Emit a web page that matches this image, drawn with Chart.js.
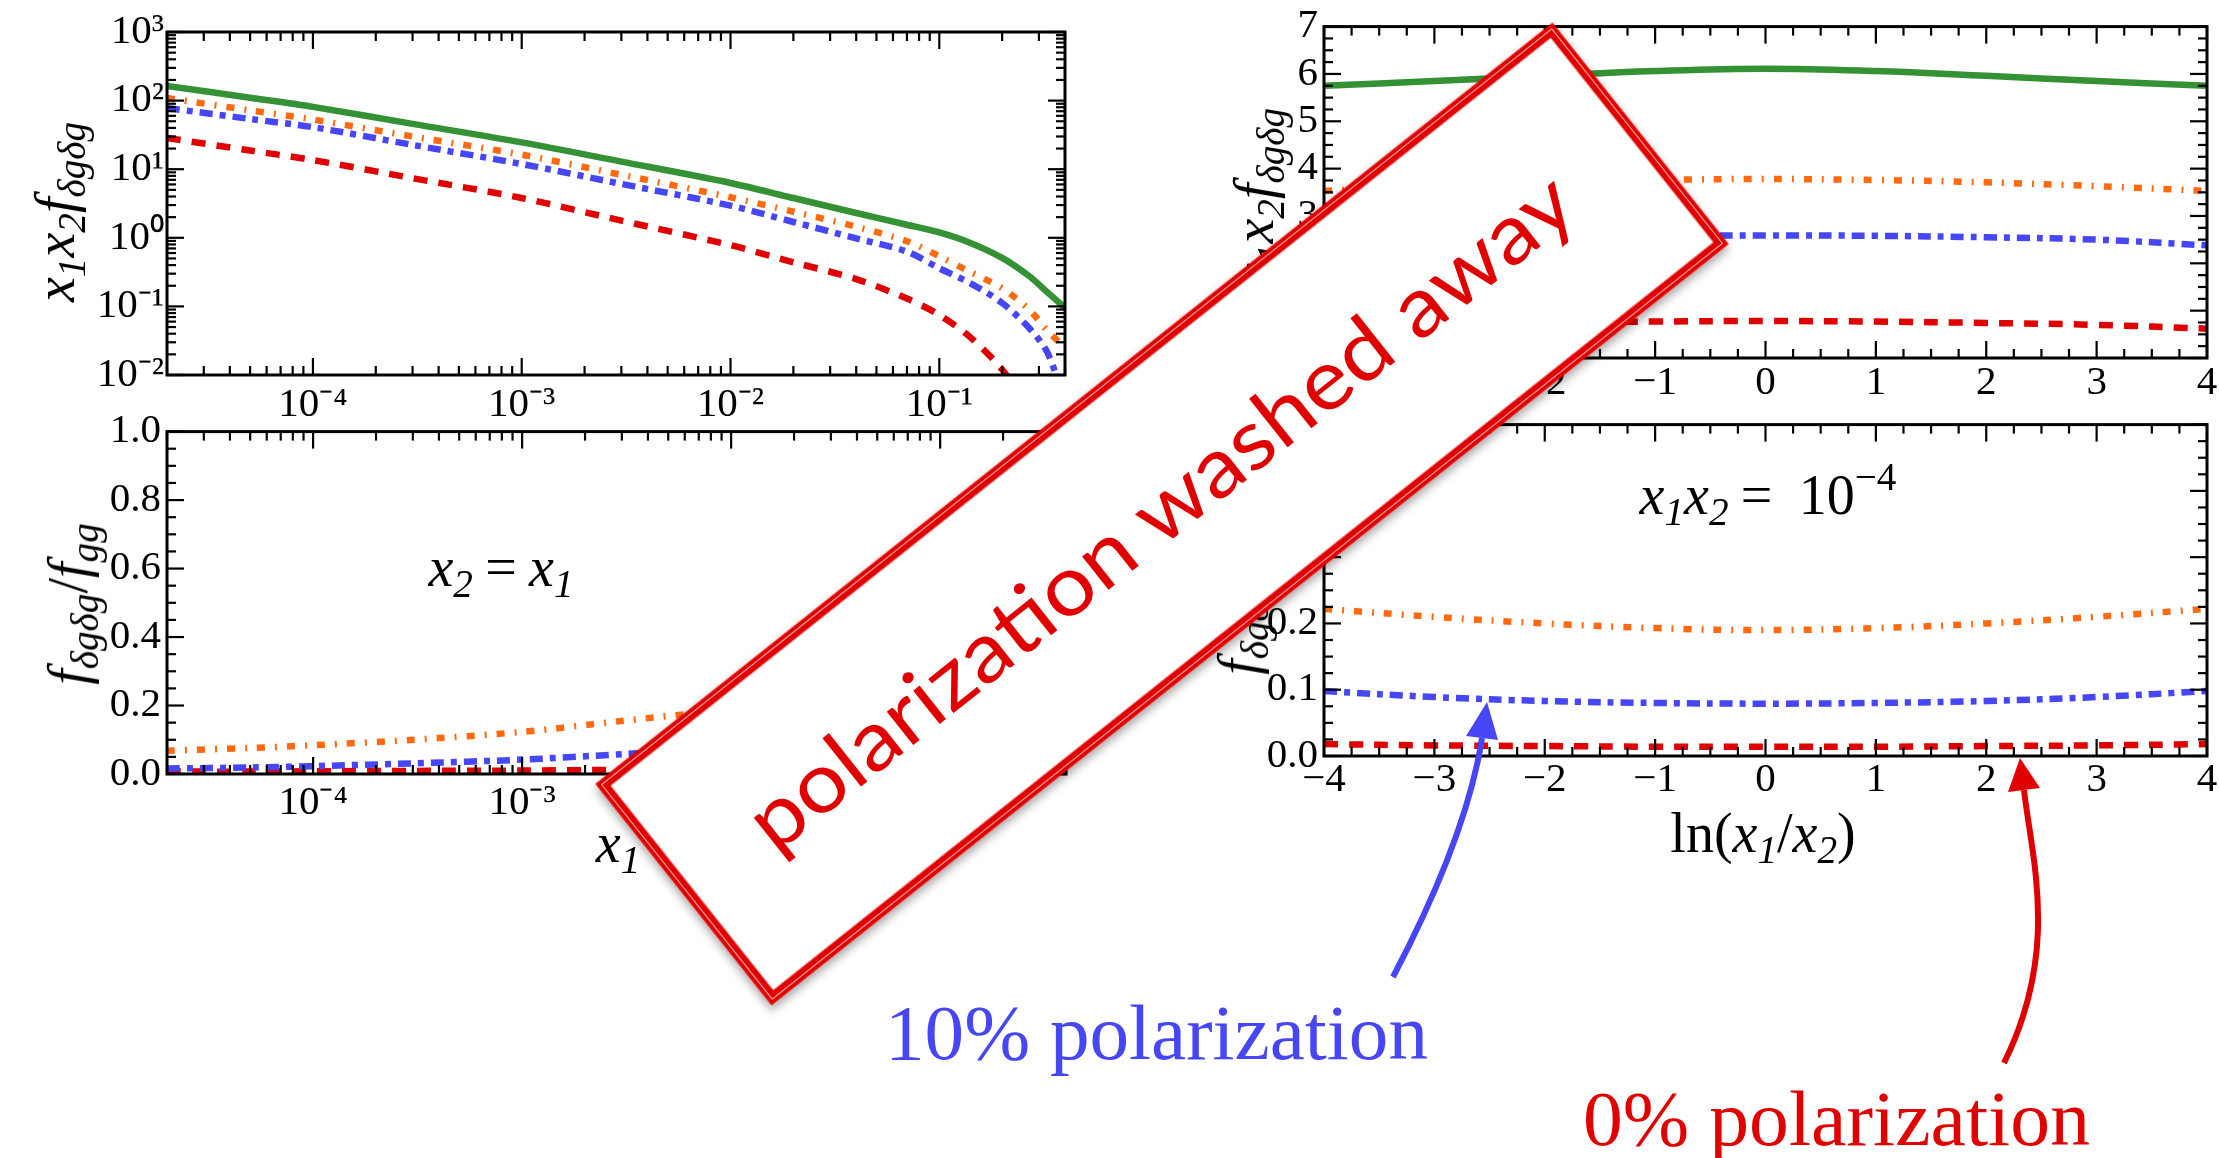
<!DOCTYPE html>
<html>
<head>
<meta charset="utf-8">
<script src="https://cdn.jsdelivr.net/npm/chart.js"></script>
<style>
html, body { margin: 0; padding: 0; background: #fff; width: 2219px; height: 1158px; overflow: hidden; position: relative; }
canvas { position: absolute; }
.lab { position: absolute; white-space: nowrap; line-height: 1; font-family: 'Liberation Serif', serif; font-style: italic; font-size: 56px; color: #000; transform: translate(-50%, -50%); }
.lab.rot { transform: translate(-50%, -50%) rotate(-90deg); }
.lab sub { font-size: 70%; vertical-align: -0.28em; line-height: 0; }
.lab sup { font-size: 70%; vertical-align: 0.62em; line-height: 0; }
.rm { font-style: normal; }
.eq { font-style: normal; margin: 0 0.22em; }
svg { position: absolute; left: 0; top: 0; }
</style>
</head>
<body>
<canvas id="c1"></canvas>
<canvas id="c2"></canvas>
<canvas id="c3"></canvas>
<canvas id="c4"></canvas>

<div class="lab rot" style="left:55px;top:212px">x<sub>1</sub>x<sub>2</sub>f<sub>δgδg</sub></div>
<div class="lab rot" style="left:68px;top:604px">f<sub>δgδg</sub><span class="rm">/</span>f<sub>gg</sub></div>
<div class="lab rot" style="left:1254px;top:198px">x<sub>1</sub>x<sub>2</sub>f<sub>δgδg</sub></div>
<div class="lab rot" style="left:1238px;top:594px">f<sub>δgδg</sub><span class="rm">/</span>f<sub>gg</sub></div>
<div class="lab" style="left:618px;top:843px">x<sub>1</sub></div>
<div class="lab" style="left:1763px;top:833px"><span class="rm">ln(</span>x<sub>1</sub><span class="rm">/</span>x<sub>2</sub><span class="rm">)</span></div>
<div class="lab" style="left:501px;top:567px">x<sub>2</sub><span class="eq">=</span>x<sub>1</sub></div>
<div class="lab" style="left:1768px;top:495px">x<sub>1</sub>x<sub>2</sub><span class="eq">=</span> <span class="rm">10<sup>−4</sup></span></div>

<svg width="2219" height="1158">
  <defs>
    <filter id="sh" x="-10%" y="-30%" width="120%" height="160%">
      <feDropShadow dx="-3" dy="4" stdDeviation="5" flood-color="#000" flood-opacity="0.35"/>
    </filter>
  </defs>
  <g transform="translate(1162,514) rotate(-38.5)">
    <rect x="-606" y="-136" width="1212" height="272" fill="#fff" stroke="#e00000" stroke-width="11" filter="url(#sh)"/>
    <rect x="-607" y="-137" width="1214" height="274" fill="none" stroke="#fff" stroke-width="1.2" stroke-opacity="0.6"/>
    <text x="0" y="26" text-anchor="middle" font-family="Lato" font-size="84" fill="#e00000" textLength="1030" lengthAdjust="spacingAndGlyphs">polarization washed away</text>
  </g>
  <path d="M1393,977 Q1467,836 1482,738" stroke="#4646f5" stroke-width="6" fill="none"/>
  <polygon points="1487,702 1498,740 1466,736" fill="#4646f5"/>
  <path d="M2004,1063 C2060,950 2032,860 2024,790" stroke="#e00000" stroke-width="6" fill="none"/>
  <polygon points="2020,758 2040,788 2008,792" fill="#e00000"/>
  <text x="885" y="1059" font-family="Liberation Serif" font-size="79" fill="#4646f5" textLength="543" lengthAdjust="spacingAndGlyphs">10% polarization</text>
  <text x="1583" y="1145" font-family="Liberation Serif" font-size="79" fill="#e00000" textLength="507" lengthAdjust="spacingAndGlyphs">0% polarization</text>
</svg>

<script>
// slice x2 = x1 (left panels)
var x1Values = [2e-5, 5e-5, 1e-4, 3e-4, 1e-3, 3e-3, 1e-2, 2e-2, 4e-2, 0.07, 0.1, 0.14, 0.2, 0.27, 0.33, 0.4];
var fGreen  = [164, 110, 81, 45.8, 24.6, 12.9, 6.3, 3.8, 2.3, 1.55, 1.2, 0.85, 0.51, 0.275, 0.16, 0.095];
var fOrange = [109, 72, 53, 30, 16.3, 8.3, 3.9, 2.4, 1.45, 0.89, 0.54, 0.32, 0.185, 0.089, 0.044, 0.025];
var fBlue   = [78, 54, 41, 22.6, 11.9, 6.1, 2.94, 1.7, 0.98, 0.63, 0.36, 0.22, 0.112, 0.048, 0.021, 0.004];
var fRed    = [28.5, 18.7, 13.6, 7.4, 3.8, 1.78, 0.78, 0.44, 0.25, 0.13, 0.075, 0.036, 0.012, 0.003, 0.001, 0.0005];
var rOrange = [0.068, 0.076, 0.084, 0.10, 0.123, 0.155, 0.19, 0.22, 0.26, 0.30, 0.33, 0.37, 0.42, 0.48, 0.53, 0.58];
var rBlue   = [0.016, 0.019, 0.023, 0.031, 0.042, 0.058, 0.079, 0.10, 0.13, 0.16, 0.19, 0.22, 0.27, 0.32, 0.36, 0.41];
var rRed    = [0.007, 0.007, 0.008, 0.009, 0.010, 0.012, 0.014, 0.017, 0.020, 0.025, 0.030, 0.035, 0.045, 0.055, 0.065, 0.075];

// slice x1 x2 = 1e-4 (right panels)
var lnRatio = [-4, -3, -2, -1, 0, 1, 2, 3, 4];
var gGreen  = [5.75, 5.85, 5.96, 6.06, 6.11, 6.06, 5.96, 5.85, 5.75];
var gOrange = [3.53, 3.63, 3.71, 3.76, 3.78, 3.76, 3.71, 3.63, 3.53];
var gBlue   = [2.38, 2.50, 2.55, 2.58, 2.59, 2.58, 2.55, 2.50, 2.38];
var gRed    = [0.62, 0.70, 0.74, 0.77, 0.78, 0.77, 0.74, 0.70, 0.62];
var sOrange = [0.222, 0.210, 0.200, 0.193, 0.190, 0.193, 0.200, 0.210, 0.222];
var sBlue   = [0.098, 0.089, 0.083, 0.080, 0.079, 0.080, 0.083, 0.089, 0.098];
var sRed    = [0.018, 0.016, 0.015, 0.014, 0.014, 0.014, 0.015, 0.016, 0.018];

// tick labels
var logXTicks = [1e-4, 1e-3, 1e-2, 1e-1];
var logYTicks = [1e-2, 1e-1, 1, 10, 100, 1000];

Chart.defaults.font.family = "'Liberation Serif', serif";
Chart.defaults.color = '#000';
var TICK_SIZE = 41;

var SUP = {'-': '\u207B', '0': '\u2070', '1': '\u00B9', '2': '\u00B2', '3': '\u00B3', '4': '\u2074',
           '5': '\u2075', '6': '\u2076', '7': '\u2077', '8': '\u2078', '9': '\u2079'};
function powLabel(v) {
    var e = Math.round(Math.log10(v));
    return '10' + String(e).split('').map(function (c) { return SUP[c]; }).join('');
}
function signed(v) { return v < 0 ? '\u2212' + Math.abs(v) : String(v); }

function logTicks(lo, hi) {
    var major = [], minor = [];
    for (var e = Math.floor(Math.log10(lo)); e <= Math.ceil(Math.log10(hi)); e++) {
        for (var k = 1; k < 10; k++) {
            var v = k * Math.pow(10, e);
            if (v < lo * 0.999 || v > hi * 1.001) continue;
            (k === 1 ? major : minor).push(v);
        }
    }
    return {major: major, minor: minor};
}
function linTicks(lo, hi, step, minorStep) {
    var major = [], minor = [];
    var n = Math.round((hi - lo) / minorStep);
    for (var i = 0; i <= n; i++) {
        var v = lo + i * minorStep;
        var r = (v - lo) / step;
        (Math.abs(r - Math.round(r)) < 1e-6 ? major : minor).push(v);
    }
    return {major: major, minor: minor};
}

// inward ticks on all four sides + box
var framePlugin = {
    id: 'frame',
    afterDraw: function (chart, args, opts) {
        var ctx = chart.ctx, a = chart.chartArea, xs = chart.scales.x, ys = chart.scales.y;
        ctx.save();
        ctx.strokeStyle = '#000';
        ctx.lineWidth = 2.2;
        function seg(x1, y1, x2, y2) { ctx.beginPath(); ctx.moveTo(x1, y1); ctx.lineTo(x2, y2); ctx.stroke(); }
        function xt(list, len) {
            list.forEach(function (v) {
                var p = xs.getPixelForValue(v);
                if (p < a.left - 0.5 || p > a.right + 0.5) return;
                seg(p, a.bottom, p, a.bottom - len);
                seg(p, a.top, p, a.top + len);
            });
        }
        function yt(list, len) {
            list.forEach(function (v) {
                var p = ys.getPixelForValue(v);
                if (p < a.top - 0.5 || p > a.bottom + 0.5) return;
                seg(a.left, p, a.left + len, p);
                seg(a.right, p, a.right - len, p);
            });
        }
        xt(opts.x.major, 17); xt(opts.x.minor, 9);
        yt(opts.y.major, 17); yt(opts.y.minor, 9);
        ctx.lineWidth = 3;
        ctx.strokeRect(a.left, a.top, a.right - a.left, a.bottom - a.top);
        ctx.restore();
    }
};

var STY = {
    green:  {borderColor: '#349134', borderDash: []},
    orange: {borderColor: '#ff6a10', borderDash: [8, 10, 2, 10]},
    blue:   {borderColor: '#4646f5', borderDash: [13, 7, 6, 7]},
    red:    {borderColor: '#e00000', borderDash: [14, 11]}
};
function series(xs, ys, sty, tension) {
    return Object.assign({
        data: xs.map(function (x, i) { return {x: x, y: ys[i]}; }),
        borderWidth: 6.5, borderCapStyle: 'butt', tension: tension, fill: false
    }, STY[sty]);
}

var PAD = {l: 120, t: 30, r: 40, b: 80};
function panel(id, box, scales, datasets, frame) {
    var cv = document.getElementById(id);
    var w = box.R - box.L + PAD.l + PAD.r, h = box.B - box.T + PAD.t + PAD.b;
    cv.width = w; cv.height = h;
    cv.style.width = w + 'px'; cv.style.height = h + 'px';
    cv.style.left = (box.L - PAD.l) + 'px'; cv.style.top = (box.T - PAD.t) + 'px';
    scales.x.afterFit = function (s) { s.height = PAD.b; };
    scales.y.afterFit = function (s) { s.width = PAD.l; };
    return new Chart(cv, {
        type: 'line',
        data: {datasets: datasets},
        options: {
            responsive: false, animation: false, devicePixelRatio: 1,
            layout: {padding: {left: 0, top: PAD.t, right: PAD.r, bottom: 0}},
            plugins: {legend: {display: false}, tooltip: {enabled: false}, frame: frame},
            elements: {point: {radius: 0}},
            scales: scales
        },
        plugins: [framePlugin]
    });
}

function hidden() { return {display: false, drawTicks: false}; }
function logX(pad) {
    return {type: 'logarithmic', min: 2e-5, max: 0.4,
        afterBuildTicks: function (s) { s.ticks = logXTicks.map(function (v) { return {value: v}; }); },
        ticks: {callback: function (v) { return powLabel(v); }, font: {size: TICK_SIZE}, padding: pad, autoSkip: false, maxRotation: 0},
        grid: hidden(), border: {display: false}};
}
function linAxis(lo, hi, step, fmt, pad) {
    return {type: 'linear', min: lo, max: hi,
        ticks: {stepSize: step, callback: fmt, font: {size: TICK_SIZE}, padding: pad, autoSkip: false, maxRotation: 0},
        grid: hidden(), border: {display: false}};
}
function fix1(v) { return v.toFixed(1); }

// top left
panel('c1', {L: 167, T: 32, R: 1065, B: 375}, {
    x: logX(6),
    y: {type: 'logarithmic', min: 1e-2, max: 1e3,
        afterBuildTicks: function (s) { s.ticks = logYTicks.map(function (v) { return {value: v}; }); },
        ticks: {callback: function (v) { return powLabel(v); }, font: {size: TICK_SIZE}, padding: 3, autoSkip: false},
        grid: hidden(), border: {display: false}}
}, [
    series(x1Values, fGreen, 'green', 0.3),
    series(x1Values, fOrange, 'orange', 0.3),
    series(x1Values, fBlue, 'blue', 0.3),
    series(x1Values, fRed, 'red', 0.3)
], {x: logTicks(2e-5, 0.4), y: logTicks(1e-2, 1e3)});

// bottom left
panel('c2', {L: 167, T: 431, R: 1066, B: 774}, {
    x: logX(5),
    y: linAxis(0, 1, 0.2, fix1, 6)
}, [
    series(x1Values, rOrange, 'orange', 0.3),
    series(x1Values, rBlue, 'blue', 0.3),
    series(x1Values, rRed, 'red', 0.3)
], {x: logTicks(2e-5, 0.4), y: linTicks(0, 1, 0.2, 0.05)});

// top right
panel('c3', {L: 1324, T: 26, R: 2207, B: 358}, {
    x: linAxis(-4, 4, 1, signed, 1),
    y: linAxis(0, 7, 1, function (v) { return String(v); }, 6)
}, [
    series(lnRatio, gGreen, 'green', 0.4),
    series(lnRatio, gOrange, 'orange', 0.4),
    series(lnRatio, gBlue, 'blue', 0.4),
    series(lnRatio, gRed, 'red', 0.4)
], {x: linTicks(-4, 4, 1, 0.25), y: linTicks(0, 7, 1, 0.25)});

// bottom right
panel('c4', {L: 1324, T: 424, R: 2207, B: 756}, {
    x: linAxis(-4, 4, 1, signed, 0),
    y: linAxis(0, 0.5, 0.1, fix1, 6)
}, [
    series(lnRatio, sOrange, 'orange', 0.4),
    series(lnRatio, sBlue, 'blue', 0.4),
    series(lnRatio, sRed, 'red', 0.4)
], {x: linTicks(-4, 4, 1, 0.25), y: linTicks(0, 0.5, 0.1, 0.025)});
</script>
</body>
</html>
